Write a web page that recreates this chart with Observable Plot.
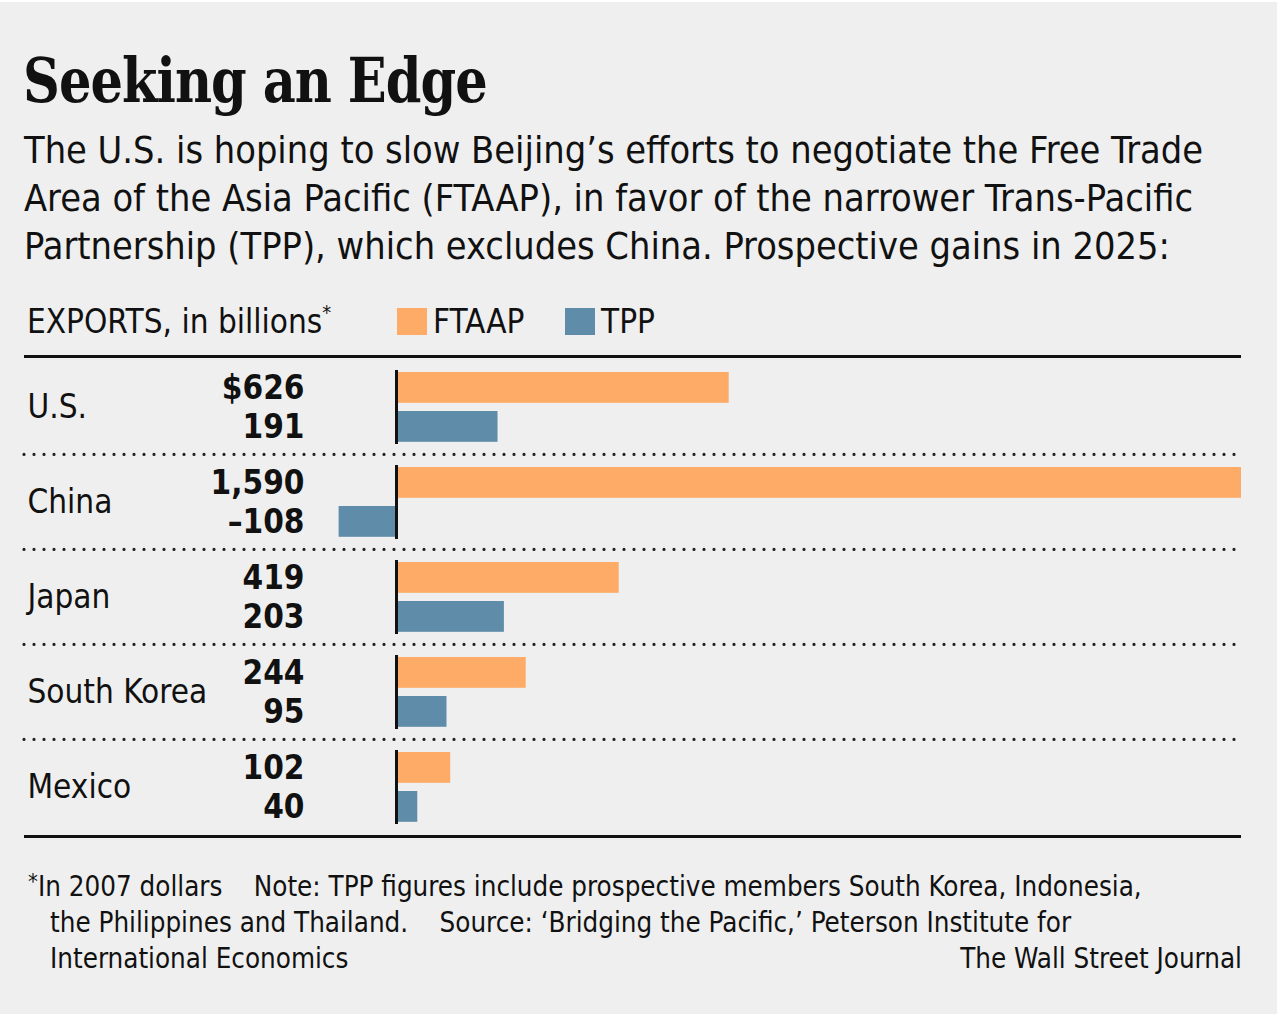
<!DOCTYPE html>
<html>
<head>
<meta charset="utf-8">
<script src="https://cdn.jsdelivr.net/npm/d3@7"></script>
<script src="https://cdn.jsdelivr.net/npm/@observablehq/plot@0.6"></script>
<style>
  html, body { margin: 0; padding: 0; background: #ffffff; }
  #panel {
    position: absolute; left: 0; top: 2px; width: 1277px; height: 1012px;
    background: #efefef; overflow: hidden;
    font-family: "Liberation Sans Narrow", "Arial Narrow", "DejaVu Sans Condensed", sans-serif;
    font-stretch: condensed; color: #111;
  }
  #title {
    position: absolute; left: 23px; top: 44px; margin: 0;
    font-family: "DejaVu Serif Condensed", "DejaVu Serif", serif; font-stretch: condensed;
    font-weight: bold; font-size: 61px; line-height: 70px; letter-spacing: -1px; color: #111;
    transform: scaleX(0.93); transform-origin: left center; white-space: nowrap;
  }
  #subtitle {
    position: absolute; left: 24px; top: 124px; margin: 0; width: 1250px;
    font-size: 37.6px; line-height: 48px; color: #111; white-space: nowrap;
  }
  #legend {
    position: absolute; left: 27px; top: 298px; height: 44px;
    font-size: 33px; line-height: 44px; white-space: nowrap;
  }
  #legend .item { position: absolute; top: 0; white-space: nowrap; }
  #legend .sw { display: inline-block; width: 30px; height: 27px; vertical-align: -2px; margin-right: 6px; }
  sup { font-size: 0.6em; vertical-align: 0.7em; line-height: 0; }
  #chart { position: absolute; left: 0; top: 339px; }
  #foot {
    position: absolute; left: 28px; top: 866px; width: 1214px;
    font-size: 27.5px; line-height: 36px; color: #111;
  }
  #foot sup { font-size: 0.8em; vertical-align: 0.3em; }
  #foot .ind { padding-left: 22px; }
  #credit { position: absolute; right: 0; bottom: 0; }
</style>
</head>
<body>
<div id="panel">
  <h1 id="title">Seeking an Edge</h1>
  <p id="subtitle">The U.S. is hoping to slow Beijing’s efforts to negotiate the Free Trade<br>Area of the Asia Pacific (FTAAP), in favor of the narrower Trans-Pacific<br>Partnership (TPP), which excludes China. Prospective gains in 2025:</p>
  <div id="legend"></div>
  <div id="chart"></div>
  <div id="foot">
    <div><sup>*</sup>In 2007 dollars&nbsp;&nbsp;&nbsp;&nbsp;Note: TPP figures include prospective members South Korea, Indonesia,</div>
    <div class="ind">the Philippines and Thailand.&nbsp;&nbsp;&nbsp;&nbsp;Source: ‘Bridging the Pacific,’ Peterson Institute for</div>
    <div class="ind">International Economics</div>
    <div id="credit">The Wall Street Journal</div>
  </div>
</div>
<script>
// ---- data ----
const countries = ["U.S.", "China", "Japan", "South Korea", "Mexico"];
const ftaap = [626, 1590, 419, 244, 102];
const tpp = [191, -108, 203, 95, 40];
const ftaapLabels = ["$626", "1,590", "419", "244", "102"];
const tppLabels = ["191", "–108", "203", "95", "40"];
const seriesNames = ["FTAAP", "TPP"];
const seriesColors = ["#fdab66", "#5e8ca9"];
const legendTitle = "EXPORTS, in billions";

// ---- legend (HTML) ----
const legend = document.getElementById("legend");
legend.innerHTML =
  `<span class="item" style="left:0">${legendTitle}<sup>*</sup></span>` +
  seriesNames.map((s, i) =>
    `<span class="item" style="left:${370 + i * 168}px"><span class="sw" style="background:${seriesColors[i]}"></span>${s}</span>`
  ).join("");

// ---- tidy table ----
const rows = countries.flatMap((c, i) => [
  {country: c, series: "FTAAP", value: ftaap[i], label: ftaapLabels[i]},
  {country: c, series: "TPP", value: tpp[i], label: tppLabels[i]}
]);
const F = rows.filter(d => d.series === "FTAAP");
const T = rows.filter(d => d.series === "TPP");

const W = 1277, H = 510, mT = 17, mB = 17;
const band = (H - mT - mB) / countries.length;
const valueFont = {fontSize: 33, fontWeight: "bold"};

const chart = Plot.plot({
  width: W, height: H,
  marginLeft: 24, marginRight: 36, marginTop: mT, marginBottom: mB,
  style: {background: "transparent", fontFamily: "'Liberation Sans Narrow', 'Arial Narrow', 'DejaVu Sans Condensed', sans-serif", color: "#111"},
  x: {domain: [-700, 1590], axis: null},
  y: {domain: countries, padding: 0, axis: null},
  color: {domain: seriesNames, range: seriesColors},
  marks: [
    // bars
    Plot.barX(F, {x: "value", y: "country", fill: "series", insetTop: 13, insetBottom: band - 44}),
    Plot.barX(T, {x: "value", y: "country", fill: "series", insetTop: 52, insetBottom: band - 83}),
    // zero line per group
    Plot.ruleX(countries, {x: () => 0, y1: d => d, y2: d => d, stroke: "#111", strokeWidth: 3, insetTop: 11, insetBottom: 10}),
    // dotted separators
    Plot.ruleY(countries.slice(1), {y: d => d, dy: -band / 2, stroke: "#222", strokeWidth: 3.2, strokeDasharray: "0 10", strokeLinecap: "round"}),
    // top and bottom rules
    Plot.ruleY(countries.slice(0, 1), {y: d => d, dy: -band / 2 - 3, stroke: "#111", strokeWidth: 3}),
    Plot.ruleY(countries.slice(-1), {y: d => d, dy: band / 2 + 2, stroke: "#111", strokeWidth: 3}),
    // category labels
    Plot.text(countries, {y: d => d, text: d => d, frameAnchor: "left", dx: 3, textAnchor: "start", fontSize: 33, fill: "#111"}),
    // value labels
    Plot.text(F, {y: "country", text: "label", frameAnchor: "left", dx: 280, textAnchor: "end", dy: -19, ...valueFont, fill: "#111"}),
    Plot.text(T, {y: "country", text: "label", frameAnchor: "left", dx: 280, textAnchor: "end", dy: 20, ...valueFont, fill: "#111"})
  ]
});
document.getElementById("chart").appendChild(chart);
</script>
</body>
</html>
